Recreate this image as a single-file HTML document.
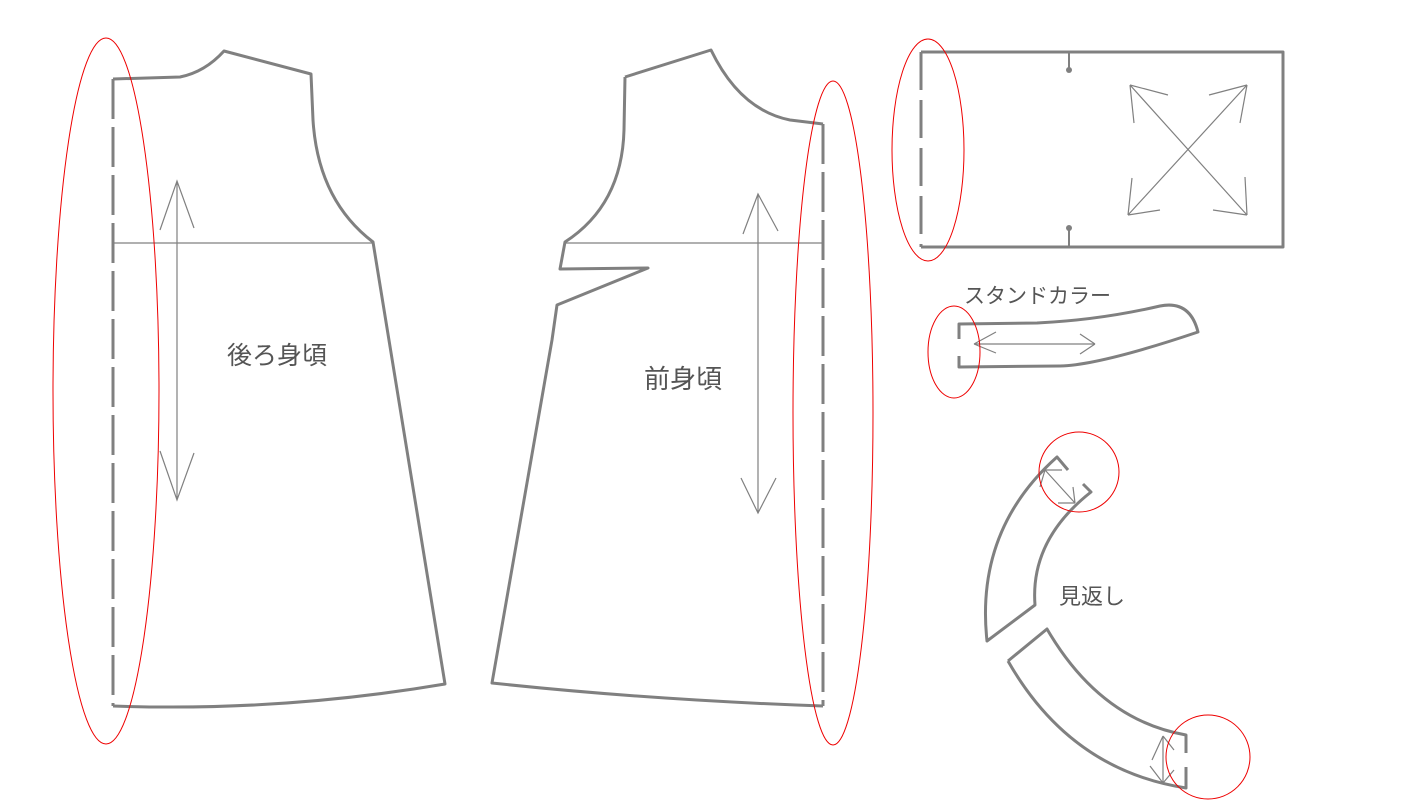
<!DOCTYPE html>
<html><head><meta charset="utf-8"><style>
html,body{margin:0;padding:0;background:#fff;}
svg{display:block}
text{font-family:"Liberation Sans","Noto Sans CJK JP",sans-serif;fill:#555}
</style></head><body>
<svg width="1423" height="801" viewBox="0 0 1423 801" xmlns="http://www.w3.org/2000/svg">
<g fill="none" stroke="#808080" stroke-width="3" stroke-linejoin="round">
<path d="M113 79 L180 77 Q205 72 224 51 L311 74 L313 120 Q318 200 373 242 L445 684 Q280 712 113 706"/>
<path d="M113 79 V706" stroke-dasharray="40 8"/>
<path d="M625 77 L711 50 Q740 110 790 120 L823 124"/>
<path d="M823 124 V706" stroke-dasharray="40 8"/>
<path d="M823 706 Q650 700 492 683 L552 340 L557 305 L648 268 L560 269 L565 242 Q622 205 624 130 L625 77"/>
<path d="M921 52 H1283 V247 H921"/>
<path d="M921 52 V247" stroke-dasharray="38 10"/>
<path d="M1069 52 V70 M1069 228 V247" stroke-width="2"/>
<path d="M959 339 V324 L1037 323 Q1100 320 1160 306 Q1190 300 1198 332 Q1100 365 1060 366 L959 367 V356"/>
<path d="M1068 470 L1057 457 Q975 530 987 641 L1035 605 Q1030 540 1091 492 L1083 484"/>
<path d="M1008 661 L1047 629 Q1100 720 1186 735 V788 Q1070 770 1008 661"/>
<path d="M1186 735 V788" stroke="#fff" stroke-width="4" stroke-dasharray="0 18 14 40"/>
</g>
<circle cx="1069" cy="70" r="3" fill="#808080"/>
<circle cx="1069" cy="228" r="3" fill="#808080"/>
<g fill="none" stroke="#808080" stroke-width="1.2">
<line x1="113" y1="243" x2="373" y2="243"/>
<line x1="566" y1="243" x2="823" y2="243"/>
<path d="M177 181 V500 M160 230 L177 181 L194 228 M160 451 L177 500 L194 453"/>
<path d="M758 194 V513 M743 234 L758 194 L778 231 M741 478 L758 513 L776 478"/>
<path d="M1130 85 L1247 215 M1247 85 L1128 215 M1130 85 L1134 123 M1130 85 L1168 95 M1247 85 L1209 95 M1247 85 L1240 123 M1247 215 L1245 177 M1247 215 L1213 210 M1128 215 L1160 210 M1128 215 L1132 178"/>
<path d="M974 344 H1095 M974 344 L996 332 M974 344 L996 353 M1095 344 L1080 334 M1095 344 L1080 354"/>
<path d="M1045 470 L1075 503 M1045 470 L1062 470 M1045 470 L1040 487 M1075 503 L1073 487 M1075 503 L1058 503"/>
<path d="M1163 736 V783 M1163 736 L1152 760 M1163 736 L1174 750 M1163 783 L1150 766 M1163 783 L1174 770"/>
</g>
<g fill="none" stroke="#e00" stroke-width="1">
<ellipse cx="106" cy="391" rx="53" ry="353"/>
<ellipse cx="833" cy="413" rx="40" ry="332"/>
<ellipse cx="928" cy="150" rx="36" ry="111"/>
<ellipse cx="954" cy="352" rx="26" ry="46"/>
<circle cx="1079" cy="472" r="40"/>
<circle cx="1208" cy="757" r="42"/>
</g>
<text x="227" y="364" font-size="25">後ろ身頃</text>
<text x="644" y="388" font-size="26">前身頃</text>
<text x="964" y="303" font-size="21">スタンドカラー</text>
<text x="1059" y="604" font-size="22">見返し</text>
</svg>
</body></html>
